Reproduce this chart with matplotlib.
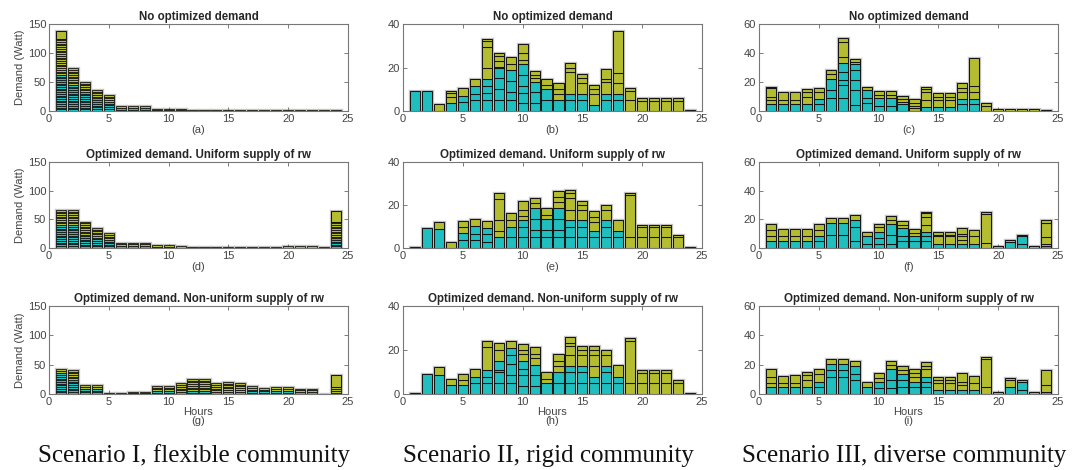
import numpy as np
import matplotlib.pyplot as plt

plt.rcParams['font.family'] = ['Liberation Sans', 'DejaVu Sans']

hours = np.arange(1, 25)

# ---- Scenario I (flexible): stacked totals per hour, flexible (cyan) and fixed (olive) parts
# olive_top = plain block sitting on top of the striped olive part
flex_none_cyan = [62, 45, 33, 22, 16, 5, 5, 5, 1, 1, 1, 0, 0, 0, 0, 0, 0, 0, 0, 0, 0, 0, 0, 0]
flex_none_olive = [76, 28.5, 17, 14, 11.6, 3.6, 3.6, 3.6, 3, 3, 3, 1.5, 1.5, 1.5, 1.5, 1.5,
                   1.5, 1.5, 1.5, 1.5, 1.5, 1.5, 1.5, 1.5]
flex_none_top = [13, 0, 0, 0, 0, 0, 0, 0, 0, 0, 0, 0, 0, 0, 0, 0, 0, 0, 0, 0, 0, 0, 0, 0]

flex_unif_cyan = [40, 40, 23, 18, 14, 4, 4, 4, 1, 1, 0.5, 0, 0, 0, 0, 0, 0, 0, 0, 0.5, 0.5, 0.5, 0, 17]
flex_unif_olive = [26, 26, 23, 17, 12, 4.6, 4.6, 4.6, 4.2, 4.2, 3, 1.5, 1.5, 1.5, 1.5, 1.5,
                   1.5, 1.5, 1.5, 3.5, 3.5, 3.5, 1, 47.6]
flex_unif_top = [0, 0, 0, 0, 0, 0, 0, 0, 0, 0, 0, 0, 0, 0, 0, 0, 0, 0, 0, 0, 0, 0, 0, 18.6]

flex_nonu_cyan = [35, 24, 8, 8, 0.5, 0.5, 1, 1, 5, 5, 3, 5, 5, 3, 4, 4, 5, 5, 5, 5, 4, 4, 0, 2]
flex_nonu_olive = [7, 17, 6.8, 6.8, 0.5, 0.5, 3, 3, 8.6, 8.6, 15, 20.6, 20.6, 15, 16.5, 14.8,
                   8, 4.7, 7, 7, 5, 5, 0.5, 30.4]
flex_nonu_top = [0, 0, 0, 0, 0, 0, 0, 0, 0, 0, 0, 0, 0, 0, 0, 0, 0, 0, 0, 0, 0, 0, 0, 20]

# ---- Scenario II (rigid): individual loads stacked per hour
rigid_none_cyan = [[9], [9], [], [3.7], [4, 3], [5, 2.7, 3.8], [5, 3.1, 3.4, 3.1], [5, 5, 5, 4.6, 0.8],
                   [5, 3.7, 5.1, 4.9], [3.5, 4.6, 3.4, 4.9, 5.1], [3.5, 5.1, 4.9], [5, 5], [5], [5, 2.7],
                   [5, 2.7], [2.8], [5, 2.7], [5, 2.7], [], [], [], [], [], []]
rigid_none_olive = [[], [], [3], [2.7, 1.7, 1.1], [3.4], [3.4], [5, 10, 2.4, 1], [2.7, 2.3, 1.1],
                    [2.9, 3.1], [1.9, 3.1, 4.1], [1.7, 1.3, 2], [2, 2.9], [2.7, 2.3, 3], [10.3, 2, 1.9],
                    [5, 2.3, 1.9], [4.9, 2.3, 2], [5.8, 1.4, 4.4], [5.3, 4.6, 19.3], [5, 4.3, 1.1],
                    [4.5, 1.6], [4.5, 1.6], [4.5, 1.6], [4.5, 1.6], [0.5]]

rigid_unif_cyan = [[], [9.2], [8.8], [], [3.8, 3.4], [3.8, 2.7, 3.8], [2.6, 3.9, 2.7], [4.9], [4.9, 4.8],
                   [4.9, 4.8, 3.4], [4.9, 3.6, 5, 5], [4.9, 3.6, 5], [4.9, 3.6, 5, 5], [4.9, 4.8, 3.4],
                   [4.9, 4.8, 3.4], [4.9, 2.8], [4.9, 4.8, 3.4], [4.9, 2.8], [], [], [], [], [], []]
rigid_unif_olive = [[0.3], [], [3.4], [2.9], [2.5, 2.9], [3.1], [3.4], [2.8, 5.4, 9.5, 3.2], [3.4, 3.1],
                    [1.8, 2.8, 4.3], [2.3, 2.6], [1.9, 3.1], [3, 2.3, 2.8], [4.6, 5.4, 2.3, 1.8],
                    [4.6, 2.3, 2], [4.6, 2.3, 2.6], [4.6, 2.3], [5.4], [4.9, 19.7, 1.2], [4.9, 4.8, 0.8],
                    [4.9, 4.8, 0.8], [4.9, 4.8, 0.8], [5, 1.2], [0.3]]

rigid_nonu_cyan = [[], [9.2], [8.7], [4], [4], [5.2, 2.7], [5.2, 2.7, 3.1], [5.2, 5, 0.8, 3.8],
                   [5.2, 3.5, 4.9, 4.3, 3], [3.7, 5, 2.6, 3.8], [3.7, 5, 4.6], [5.2], [5.2, 4.6],
                   [5.2, 4.6, 3], [5.2, 4.6, 3], [5.2, 2.7], [5.2, 4.6, 3], [5.2, 2.7], [], [], [], [], [], []]
rigid_nonu_olive = [[0.3], [], [3.4], [3], [2.4, 2.5], [3.4], [10.2, 3.1], [5.4, 3], [3.4],
                    [2.9, 1.8, 3.1], [3, 2, 3.1], [1.8, 2.9], [3, 2.3, 3.1], [4.9, 4, 1.5, 2.8],
                    [4.9, 2.5, 1.8], [4.9, 4.9, 2.5, 1.8], [5.1, 1.9], [5.1], [5.2, 19.1, 1.2],
                    [5.2, 4.3, 1.2], [5.2, 4.3, 1.2], [5.2, 4.3, 1.2], [5.2, 1.2], [0.3]]

# ---- Scenario III (diverse)
div_none_cyan = [[4.6], [4.6], [4.6], [4.6], [4.6, 3.9], [8.7, 5.8, 7.3], [8.7, 9.2, 3.5, 5.7, 5.8],
                 [4.1, 10.4, 6.9, 6.9, 3.9], [5.3, 3.4, 5.8], [3.4, 5.3], [3.4, 5.3], [4.6], [], [3],
                 [3], [3], [4.6, 3.9], [4.6, 3.9], [], [], [], [], [], []]
div_none_olive = [[3, 2.3, 5.7, 1.2], [3, 5.3], [3, 5.3], [5.3, 3.4, 1.6], [4.4, 3.2], [3.7, 3],
                  [4.6, 10.3, 2.8], [1.8, 1.6], [2.3], [2.3, 2.6], [2.3, 2.6], [1.8, 1.6, 2.3],
                  [1.8, 1.6, 1.9, 2.7], [4.6, 5.7, 1.6, 1.9], [4.6, 2.3, 2.3], [4.6, 2.3, 2.3],
                  [4.8, 2.3, 3.9], [4.6, 4.1, 19.6], [3.7, 1.6], [1.2], [1.2], [1.2], [1.2], [0.5]]

div_unif_cyan = [[4.6], [4.6], [4.6], [4.6], [4.6, 3.5], [8.8, 8.5], [8.8, 8.5], [4.6, 9.9, 5.1],
                 [3, 5.1], [3, 3.9, 4.6], [3, 6.2, 7.7], [4.6, 3.5, 6.2], [4.6, 3.5], [4.6, 3.5, 3.4],
                 [3], [3], [3], [3], [], [], [4.2], [3, 5.1], [], [1.6]]
div_unif_olive = [[3.5, 4.6, 3.9], [3.5, 5.1], [3.5, 5.1], [3.5, 5.1], [4.6, 3.9], [3.3], [3.3], [3.7],
                  [3.2], [2.9, 2.5], [2.7, 2.6], [1.9, 2.7], [2.3, 3.2], [4.7, 5.7, 2.3, 1.2],
                  [5.1, 1.1, 2.3], [5.1, 1.1, 2.3], [2.8, 2.3, 1.5, 4.7], [5.1, 4.6], [3.5, 20.3, 1.1],
                  [1.2], [1.6], [0.9], [1.2], [1.4, 4.6, 9.7, 2.3]]

div_nonu_cyan = [[5], [5], [5], [5], [5, 3.5], [11.9, 4.6, 3.9], [11.9, 4.6, 3.9], [9.6, 4.1, 5.1],
                 [4.6], [3.9, 4.6], [3.9, 5.7, 7.3], [5, 4.6, 3.9], [5, 3.5], [5, 3.5, 3.4], [2.7],
                 [2.7], [2.7], [2.7], [], [], [5], [2.7, 5.8], [], [1.2]]
div_nonu_olive = [[2.8, 4.1, 5], [2.8, 4.8], [2.8, 5], [4.6, 3.4, 2.1], [5, 3.4], [3.4], [3.4], [3.6],
                  [3.4], [2.3, 3.4], [3, 2.8], [3, 2.7], [3.4, 2.3, 2.7], [5, 2.3, 2.3],
                  [5.1, 1.8, 2.3], [5.1, 1.8, 2.3], [3.5, 2.3, 6.1], [5.1, 4.8], [4.6, 19.2, 1.4],
                  [1.2], [4.6, 1.6], [1.1], [1.2], [5, 10.3]]

titles = ['No optimized demand', 'Optimized demand. Uniform supply of rw',
          'Optimized demand. Non-uniform supply of rw']
letters = [['(a)', '(b)', '(c)'], ['(d)', '(e)', '(f)'], ['(g)', '(h)', '(i)']]
scenarios = ['Scenario I, flexible community', 'Scenario II, rigid community',
             'Scenario III, diverse community']
ymax = [150, 40, 60]
yticks = [[0, 50, 100, 150], [0, 20, 40], [0, 20, 40, 60]]

CYAN = '#20bfbf'
OLIVE = '#b4bd2f'
HALO = '#c4c4c4'
WIDTH = 0.84
UNIT = 3.0   # approx size of one household load in the flexible community


def halo(ax, h, total):
    ax.bar(h, total, WIDTH, color='none', edgecolor=HALO, linewidth=2.4, zorder=1)


def draw_flexible(ax, cyan_tot, olive_tot, olive_top):
    for h, c, o, t in zip(hours, cyan_tot, olive_tot, olive_top):
        halo(ax, h, c + o)
        bottom = 0.0
        for part, col in ((c, CYAN), (o - t, OLIVE)):
            if part <= 0:
                continue
            n = max(1, int(round(part / UNIT)))
            for k in range(n):
                ax.bar(h, part / n, WIDTH, bottom=bottom, color=col,
                       edgecolor='#151515', linewidth=0.6, zorder=2)
                bottom += part / n
        if t > 0:
            ax.bar(h, t, WIDTH, bottom=bottom, color=OLIVE,
                   edgecolor='#151515', linewidth=0.75, zorder=2)


def draw_stacks(ax, cyan_segs, olive_segs):
    for h, cs, os_ in zip(hours, cyan_segs, olive_segs):
        halo(ax, h, sum(cs) + sum(os_))
        bottom = 0.0
        for seg, col in [(s, CYAN) for s in cs] + [(s, OLIVE) for s in os_]:
            ax.bar(h, seg, WIDTH, bottom=bottom, color=col,
                   edgecolor='#151515', linewidth=0.75, zorder=2)
            bottom += seg


fig = plt.figure(figsize=(10.85, 4.7), dpi=100)
W, H = 1085.0, 470.0
cols = [(49, 348), (403, 702), (759, 1058)]
rows = [(24, 111), (162, 248), (306, 394)]

flex = [(flex_none_cyan, flex_none_olive, flex_none_top),
        (flex_unif_cyan, flex_unif_olive, flex_unif_top),
        (flex_nonu_cyan, flex_nonu_olive, flex_nonu_top)]
rigid = [(rigid_none_cyan, rigid_none_olive), (rigid_unif_cyan, rigid_unif_olive),
         (rigid_nonu_cyan, rigid_nonu_olive)]
diverse = [(div_none_cyan, div_none_olive), (div_unif_cyan, div_unif_olive),
           (div_nonu_cyan, div_nonu_olive)]

for r, (top, bot) in enumerate(rows):
    for c, (left, right) in enumerate(cols):
        ax = fig.add_axes([left / W, 1 - bot / H, (right - left) / W, (bot - top) / H])
        if c == 0:
            draw_flexible(ax, *flex[r])
        elif c == 1:
            draw_stacks(ax, *rigid[r])
        else:
            draw_stacks(ax, *diverse[r])
        ax.set_xlim(0, 25)
        ax.set_ylim(0, ymax[c])
        ax.set_xticks([0, 5, 10, 15, 20, 25])
        ax.set_yticks(yticks[c])
        ax.tick_params(direction='in', top=True, right=True, length=3, width=0.6,
                       colors='#666666', labelcolor='#444444', labelsize=8, pad=2)
        for sp in ax.spines.values():
            sp.set_color('#777777')
            sp.set_linewidth(0.8)
        ax.set_title(titles[r], fontsize=8.3, fontweight='bold', color='#262626', pad=3)
        if r == 2:
            ax.set_xlabel('Hours\n' + letters[r][c], fontsize=8, color='#444444',
                          labelpad=0, linespacing=0.95)
        else:
            ax.set_xlabel(letters[r][c], fontsize=8, color='#444444', labelpad=1)
        if c == 0:
            ax.set_ylabel('Demand (Watt)', fontsize=8, color='#444444', labelpad=2)

for (left, right), name in zip(cols, scenarios):
    fig.text((left + right) / 2 / W - 0.004, 1 - 456 / H, name, ha='center', va='center',
             fontsize=18, family='Liberation Serif', color='#111111')

fig.savefig('out.png', dpi=100)
